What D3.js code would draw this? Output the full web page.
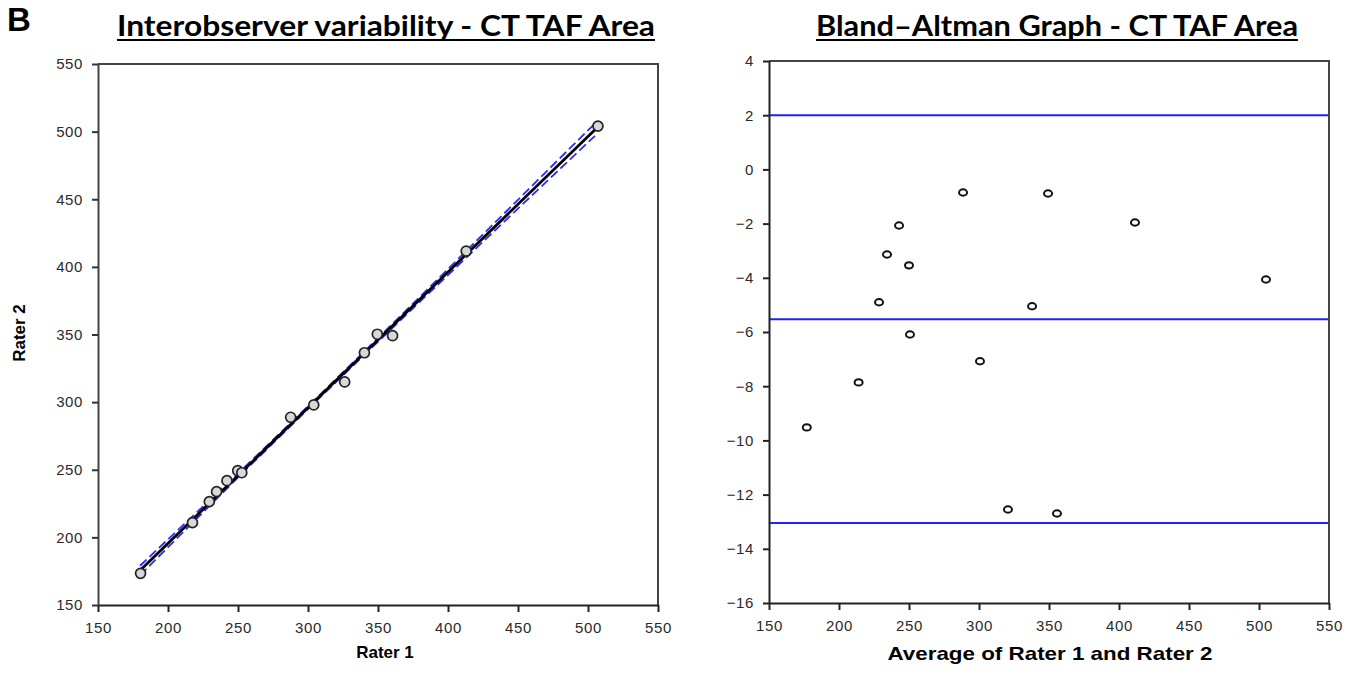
<!DOCTYPE html>
<html>
<head>
<meta charset="utf-8">
<script src="https://cdn.jsdelivr.net/npm/d3@7"></script>
<style>
  body { margin: 0; background: #fff; }
  .tick text { font-family: 'Liberation Sans', Arial, sans-serif; font-size: 15px; fill: #2a2a2a; letter-spacing: 0.6px; }
</style>
</head>
<body>
<div id="chart"></div>
<script>
// Rater values (left panel)
const rater1 = [180.4, 217.5, 229.5, 234.7, 242.1, 249.8, 252.7, 287.6, 304.1, 326.2, 340.3, 349.5, 360.4, 413.0, 507.1];
const rater2 = [173.4, 210.9, 226.4, 233.8, 241.9, 249.3, 247.8, 288.8, 297.9, 314.9, 336.5, 350.2, 349.1, 411.7, 504.1];

// regression line and its blue dashed bands
const fitX = [180, 507];
const fitY = [175.5, 503.5];
const bandX = [180, 220, 260, 300, 340, 380, 420, 460, 505];
const bandUpper = [179.0, 218.0, 257.1, 296.9, 337.2, 377.9, 418.9, 459.9, 506.1];
const bandLower = [172.0, 213.4, 254.5, 294.9, 334.8, 374.3, 413.7, 452.9, 496.9];

// Bland-Altman (right panel)
const average = [177, 214, 228.6, 234.3, 242.9, 250, 250.7, 288.6, 300.7, 320.7, 337.9, 349.3, 355.7, 411.4, 505];
const difference = [-9.52, -7.86, -4.9, -3.14, -2.07, -3.54, -6.09, -0.85, -7.08, -12.55, -5.05, -0.89, -12.7, -1.96, -4.06];
const limits = [2.0, -5.53, -13.05];

const xTicks = [150, 200, 250, 300, 350, 400, 450, 500, 550];
const leftYTicks = [150, 200, 250, 300, 350, 400, 450, 500, 550];
const rightYTicks = [-16, -14, -12, -10, -8, -6, -4, -2, 0, 2, 4];

const draw = () => {
  const dimensions = { width: 1362, height: 682 };

  const svg = d3.select('#chart')
    .append('svg')
    .attr('width', dimensions.width)
    .attr('height', dimensions.height)
    .style('background', '#fff');

  const font = "'Liberation Sans', Arial, sans-serif";

  // panel letter
  svg.append('text')
    .attr('x', 7)
    .attr('y', 31)
    .attr('font-family', font)
    .attr('font-weight', 700)
    .attr('font-size', 33)
    .text('B');

  const title = (text, x0, x1) => {
    svg.append('text')
      .attr('x', x0)
      .attr('y', 36)
      .attr('font-family', 'Lato, sans-serif')
      .attr('font-weight', 700)
      .attr('font-size', 28)
      .attr('textLength', x1 - x0)
      .attr('lengthAdjust', 'spacingAndGlyphs')
      .text(text);
    svg.append('line')
      .attr('x1', x0).attr('x2', x1)
      .attr('y1', 40).attr('y2', 40)
      .attr('stroke', '#000')
      .attr('stroke-width', 2);
  };

  const frame = (g, xScale, yScale) => {
    const [x0, x1] = xScale.range();
    const [y0, y1] = yScale.range();
    g.append('path')
      .attr('d', `M${x0},${y1}H${x1}V${y0}`)
      .attr('fill', 'none')
      .attr('stroke', '#444')
      .attr('stroke-width', 2);

    const xAxis = d3.axisBottom(xScale).tickValues(xTicks).tickSize(7).tickPadding(10).tickSizeOuter(0);
    g.append('g')
      .attr('transform', `translate(0, ${y0})`)
      .call(xAxis)
      .call((a) => a.select('.domain').attr('stroke', '#222').attr('stroke-width', 2))
      .call((a) => a.selectAll('.tick line').attr('stroke', '#222').attr('stroke-width', 2));
  };

  // ---- left: scatter ----
  const xLeft = d3.scaleLinear().domain([150, 550]).range([98, 658]);
  const yLeft = d3.scaleLinear().domain([150, 550]).range([605, 64]);
  const left = svg.append('g');

  frame(left, xLeft, yLeft);
  left.append('g')
    .attr('transform', `translate(${xLeft.range()[0]}, 0)`)
    .call(d3.axisLeft(yLeft).tickValues(leftYTicks).tickSize(6).tickPadding(9).tickSizeOuter(0))
    .call((a) => a.select('.domain').attr('stroke', '#444').attr('stroke-width', 2))
    .call((a) => a.selectAll('.tick line').attr('stroke', '#333').attr('stroke-width', 2));

  const bandLine = (vals) => d3.line()
    .x((_, i) => xLeft(bandX[i]))
    .y((d) => yLeft(d))(vals);

  [bandUpper, bandLower].forEach((vals) => {
    left.append('path')
      .attr('d', bandLine(vals))
      .attr('fill', 'none')
      .attr('stroke', '#2a2aff')
      .attr('stroke-width', 1.8)
      .attr('stroke-dasharray', '9,4');
  });

  left.append('path')
    .attr('d', d3.line().x((_, i) => xLeft(fitX[i])).y((d) => yLeft(d))(fitY))
    .attr('stroke', '#000')
    .attr('stroke-width', 2.8);

  left.selectAll('circle')
    .data(rater1)
    .join('circle')
    .attr('cx', (d) => xLeft(d))
    .attr('cy', (_, i) => yLeft(rater2[i]))
    .attr('r', 5)
    .attr('fill', '#d8d8d8')
    .attr('stroke', '#222')
    .attr('stroke-width', 1.7);

  svg.append('text')
    .attr('x', 385)
    .attr('y', 658)
    .attr('text-anchor', 'middle')
    .attr('font-family', font)
    .attr('font-weight', 700)
    .attr('font-size', 17)
    .text('Rater 1');

  svg.append('text')
    .attr('transform', 'translate(25, 333) rotate(-90)')
    .attr('text-anchor', 'middle')
    .attr('font-family', font)
    .attr('font-weight', 700)
    .attr('font-size', 17)
    .text('Rater 2');

  title('Interobserver variability - CT TAF Area', 117, 655);

  // ---- right: Bland-Altman ----
  const xRight = d3.scaleLinear().domain([150, 550]).range([769, 1329]);
  const yRight = d3.scaleLinear().domain([-16, 4]).range([603, 61]);
  const right = svg.append('g');

  right.selectAll('line.limit')
    .data(limits)
    .join('line')
    .attr('class', 'limit')
    .attr('x1', xRight(150))
    .attr('x2', xRight(550))
    .attr('y1', (d) => yRight(d))
    .attr('y2', (d) => yRight(d))
    .attr('stroke', '#1f1fff')
    .attr('stroke-width', 2);

  frame(right, xRight, yRight);
  right.append('g')
    .attr('transform', `translate(${xRight.range()[0]}, 0)`)
    .call(d3.axisLeft(yRight).tickValues(rightYTicks).tickSize(6).tickPadding(9).tickSizeOuter(0))
    .call((a) => a.select('.domain').attr('stroke', '#222').attr('stroke-width', 2))
    .call((a) => a.selectAll('.tick line').attr('stroke', '#222').attr('stroke-width', 2));

  right.selectAll('ellipse')
    .data(average)
    .join('ellipse')
    .attr('cx', (d) => xRight(d))
    .attr('cy', (_, i) => yRight(difference[i]))
    .attr('rx', 4)
    .attr('ry', 3.2)
    .attr('fill', '#fff')
    .attr('stroke', '#111')
    .attr('stroke-width', 2);

  svg.append('text')
    .attr('x', 1050)
    .attr('y', 660)
    .attr('text-anchor', 'middle')
    .attr('font-family', font)
    .attr('font-weight', 700)
    .attr('font-size', 19)
    .attr('textLength', 325)
    .attr('lengthAdjust', 'spacingAndGlyphs')
    .text('Average of Rater 1 and Rater 2');

  title('Bland\u2013Altman Graph - CT TAF Area', 816, 1298);
};

draw();
</script>
</body>
</html>
